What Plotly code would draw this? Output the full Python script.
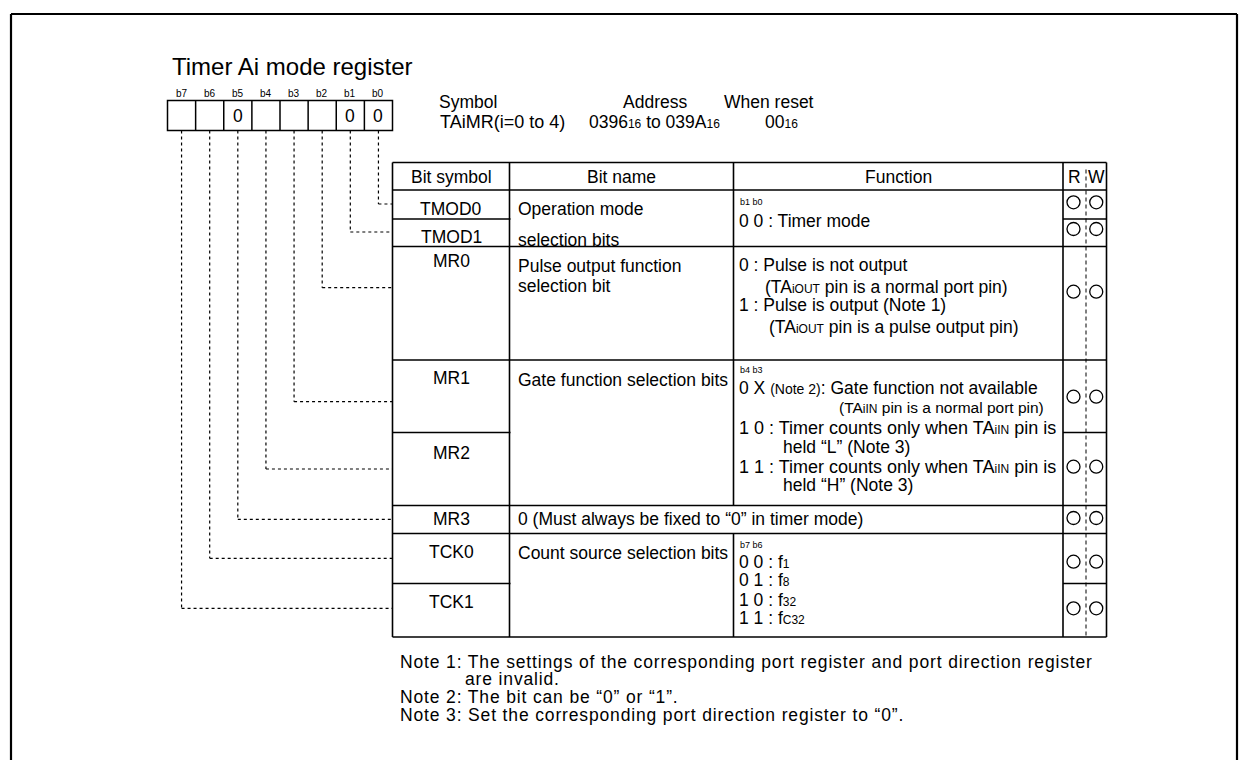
import plotly.graph_objects as go

# ---------------- data (text content) ----------------
title_text = "Timer Ai mode register"
bit_labels = ["b7", "b6", "b5", "b4", "b3", "b2", "b1", "b0"]
bit_values = ["", "", "0", "", "", "", "0", "0"]
header_labels = ["Symbol", "Address", "When reset"]
header_values = ["TAiMR(i=0 to 4)", "0396<span style='font-size:12px'>16</span> to 039A<span style='font-size:12px'>16</span>",
                 "00<span style='font-size:12px'>16</span>"]
col_titles = ["Bit symbol", "Bit name", "Function", "R", "W"]
bit_symbols = ["TMOD0", "TMOD1", "MR0", "MR1", "MR2", "MR3", "TCK0", "TCK1"]
bit_names = [["Operation mode", "selection bits"],
             ["Pulse output function", "selection bit"],
             ["Gate function selection bits"],
             ["0 (Must always be fixed to \u201c0\u201d in timer mode)"],
             ["Count source selection bits"]]
SM = "<span style='font-size:12px'>"
func_mode = ["b1 b0", "0 0 : Timer mode"]
func_mr0 = ["0 : Pulse is not output",
            "(TA" + SM + "iOUT</span> pin is a normal port pin)",
            "1 : Pulse is output (Note 1)",
            "(TA" + SM + "iOUT</span> pin is a pulse output pin)"]
func_gate = ["b4 b3",
             "0 X <span style='font-size:14px'>(Note 2)</span>: Gate function not available",
             "(TA" + SM + "iIN</span> pin is a normal port pin)",
             "1 0 : Timer counts only when TA" + SM + "iIN</span> pin is",
             "held \u201cL\u201d (Note 3)",
             "1 1 : Timer counts only when TA" + SM + "iIN</span> pin is",
             "held \u201cH\u201d (Note 3)"]
func_tck = ["b7 b6",
            "0 0 : f" + SM + "1</span>",
            "0 1 : f" + SM + "8</span>",
            "1 0 : f" + SM + "32</span>",
            "1 1 : f" + SM + "C32</span>"]
rw_marks = [True, True, True, True, True, True, True, True]
notes = ["Note 1: The settings of the corresponding port register and port direction register",
         "are invalid.",
         "Note 2: The bit can be \u201c0\u201d or \u201c1\u201d.",
         "Note 3: Set the corresponding port direction register to \u201c0\u201d."]

# ---------------- layout helpers ----------------
FONT = "Liberation Sans, Arial, Helvetica, sans-serif"
BODY = 17.5
shapes = []
annotations = []


def line(x0, y0, x1, y1, w=1.6, dash=None):
    ln = dict(color="black", width=w)
    if dash:
        ln["dash"] = dash
    shapes.append(dict(type="line", xref="x", yref="y", x0=x0, y0=y0, x1=x1, y1=y1, line=ln))


def rect(x0, y0, x1, y1, w=1.6):
    shapes.append(dict(type="rect", xref="x", yref="y", x0=x0, y0=y0, x1=x1, y1=y1,
                       line=dict(color="black", width=w), fillcolor="rgba(0,0,0,0)"))


def circle(cx, cy, r=6.5):
    shapes.append(dict(type="circle", xref="x", yref="y", x0=cx - r, y0=cy - r, x1=cx + r, y1=cy + r,
                       line=dict(color="black", width=1.3)))


def txt(x, y, s, size=BODY, anchor="left"):
    annotations.append(dict(x=x, y=y, xref="x", yref="y", text=s, showarrow=False,
                            xanchor=anchor, yanchor="middle",
                            font=dict(family=FONT, size=size, color="black")))


# outer frame (left, top, right)
line(11, 14, 11, 775, w=2.2)
line(11, 14, 1237, 14, w=2.2)
line(1237, 14, 1237, 775, w=2.2)

# title
txt(170, 66, title_text, size=24)

# bit box
bx0, bx1, by0, by1 = 167.5, 392.5, 100.5, 130.5
cw = (bx1 - bx0) / 8
rect(bx0, by0, bx1, by1, w=1.5)
for i in range(1, 8):
    line(bx0 + cw * i, by0, bx0 + cw * i, by1, w=1.5)
centers = [bx0 + cw * (i + 0.5) for i in range(8)]
for i, (lab, val) in enumerate(zip(bit_labels, bit_values)):
    txt(centers[i], 93, lab, size=10, anchor="center")
    if val:
        txt(centers[i], 116, val, size=BODY, anchor="center")

# header info
txt(437, 101.5, header_labels[0], size=BODY)
txt(655, 101.5, header_labels[1], size=BODY, anchor="center")
txt(722, 101.5, header_labels[2], size=BODY)
txt(438, 121.5, header_values[0], size=18)
txt(587, 121.5, header_values[1], size=BODY)
txt(763, 121.5, header_values[2], size=BODY)

# table geometry
xL, xS, xN, xF, xRW, xR = 392.5, 509.5, 733.5, 1063, 1086, 1106.5
yT, yH, yT01, yM0, yM1, yM12, yM3, yTK, yTK01, yB = 162.5, 190, 219, 246.5, 360, 432.5, 505.5, 533.5, 583.5, 637

# horizontal lines
for yy in [yT, yH, yM0, yM1, yM3, yTK, yB]:
    line(xL, yy, xR, yy)
for yy in [yT01, yM12, yTK01]:
    line(xL, yy, xS + 1, yy)
    line(xF, yy, xR, yy)
# vertical lines
line(xL, yT, xL, yB)
line(xS, yT, xS, yB)
line(xN, yT, xN, yM3)
line(xN, yTK, xN, yB)
line(xF, yT, xF, yB)
line(xR, yT, xR, yB)
line(xRW, yT + 7, xRW, yB, w=1, dash="4px,3px")

# column titles
cols_c = [(xL + xS) / 2, (xS + xN) / 2, (xN + xF) / 2, (xF + xRW) / 2, (xRW + xR) / 2]
for c, t in zip(cols_c, col_titles):
    txt(c, 176.5, t, size=BODY, anchor="center")

# bit symbols
sym_y = [209, 236.5, 261, 377.7, 453.3, 519, 551.7, 601.7]
sx = (xL + xS) / 2
for s, yy in zip(bit_symbols, sym_y):
    txt(sx, yy, s, size=BODY, anchor="center")

# bit names
nx = 516
name_y = [[209, 239.5], [266, 286], [380], [519], [553.3]]
for names, ys in zip(bit_names, name_y):
    for s, yy in zip(names, ys):
        txt(nx, yy, s, size=BODY)

# functions
fx = 737
txt(fx + 1, 201.5, func_mode[0], size=9)
txt(fx, 221, func_mode[1])

mr0_pos = [(fx, 265), (763, 287.3), (fx, 305), (766.5, 326.7)]
for s, (xx, yy) in zip(func_mr0, mr0_pos):
    txt(xx, yy, s)

gate_pos = [(fx + 1, 370, 9), (fx, 388.3, BODY), (837, 407.7, 15.5), (fx, 427.7, 18),
            (780.5, 446.7, BODY), (fx, 466.7, 18), (780.5, 485, BODY)]
for s, (xx, yy, fs) in zip(func_gate, gate_pos):
    txt(xx, yy, s, size=fs)

tck_pos = [(fx + 1, 545, 9), (fx, 561.7, BODY), (fx, 580, BODY), (fx, 600, BODY), (fx, 618.3, BODY)]
for s, (xx, yy, fs) in zip(func_tck, tck_pos):
    txt(xx, yy, s, size=fs)

# R/W marks
circle_y = [202.3, 229, 291.7, 396.7, 466.7, 518, 561.7, 608.3]
cR, cW = (xF + xRW) / 2 - 1, (xRW + xR) / 2
for yy, m in zip(circle_y, rw_marks):
    if m:
        circle(cR, yy)
        circle(cW, yy)

# dashed connectors (b0 .. b7 -> rows)
conn_y = [204, 232, 287.7, 401.7, 469, 519.3, 558.3, 608.3]
for k, yy in enumerate(conn_y):
    cx = centers[7 - k]
    line(cx, by1, cx, yy, w=1.2, dash="3px,3px")
    line(cx, yy, xL, yy, w=1.2, dash="3px,3px")

# notes (reference uses a horizontally wide face: add a little letter spacing)
note_pos = [(398, 661.7), (463, 679.3), (398, 697.3), (398, 714.5)]
for s, (xx, yy) in zip(notes, note_pos):
    txt(xx, yy, "<span style='letter-spacing:0.85px'>" + s + "</span>", size=17.5)

fig = go.Figure()
fig.add_trace(go.Scatter(x=[], y=[], showlegend=False, hoverinfo="skip"))
fig.update_layout(
    width=1253, height=760,
    margin=dict(l=0, r=0, t=0, b=0),
    paper_bgcolor="white", plot_bgcolor="white",
    xaxis=dict(range=[0, 1253], visible=False, fixedrange=True),
    yaxis=dict(range=[760, 0], visible=False, fixedrange=True),
    shapes=shapes, annotations=annotations, showlegend=False,
)
fig.write_html("out.html", config={"displayModeBar": False},
               post_script="document.body.style.margin='0';document.body.style.overflow='hidden';")
